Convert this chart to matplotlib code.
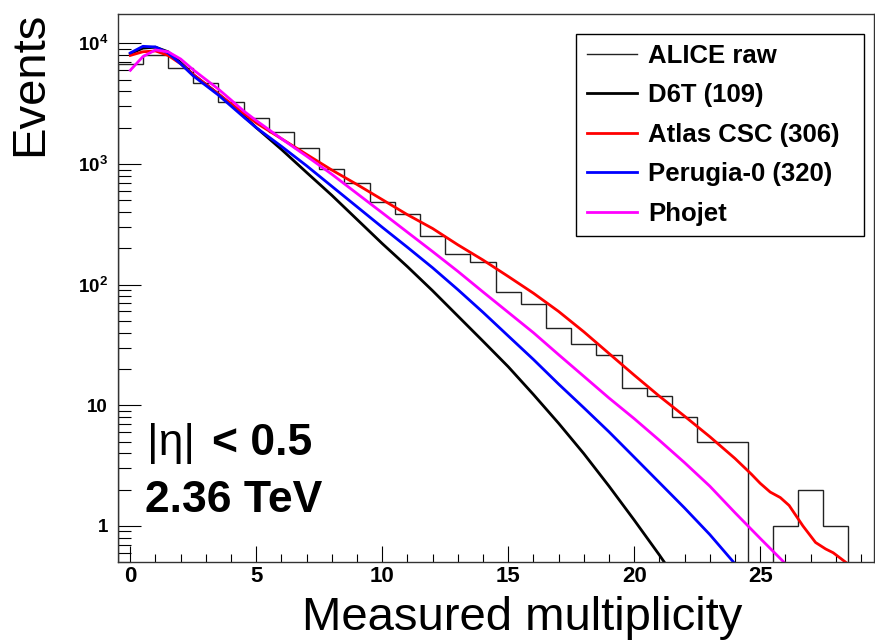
import matplotlib
matplotlib.use("Agg")
import matplotlib.pyplot as plt
import numpy as np

plt.rcParams['font.family'] = ['Liberation Sans', 'DejaVu Sans']
plt.rcParams['mathtext.fontset'] = 'custom'
plt.rcParams['mathtext.rm'] = 'Liberation Sans:bold'
plt.rcParams['mathtext.bf'] = 'Liberation Sans:bold'

# ALICE raw multiplicity histogram (bins centred on integers 0..28)
mult_bins = np.arange(0, 29)
alice_raw = [6800, 8000, 6200, 4650, 3280, 2390, 1850, 1350, 915, 690,
             480, 385, 255, 180, 155, 87, 69, 44, 32, 26,
             14, 12, 8, 5, 5, 0, 1, 2, 1]

# MC generator curves
d6t_x = [0, 0.5, 1, 1.5, 2, 2.5, 3, 3.5, 4, 4.5, 5, 6, 7, 8, 9, 10, 11, 12, 13,
         14, 15, 16, 17, 18, 19, 20, 21, 21.2]
d6t_y = [8200, 9120, 9290, 8510, 6920, 5500, 4570, 3800, 3090, 2510, 2000, 1320,
         850, 550, 347, 219, 141, 89, 55, 34, 20.9, 12.3, 7.1, 3.98, 2.14, 1.12,
         0.575, 0.5]

atlas_x = [0, 0.5, 1, 1.5, 2, 2.5, 3, 3.5, 4, 4.5, 5, 6, 7, 8, 9, 10, 11, 12, 13,
           14, 15, 16, 17, 18, 19, 20, 21, 22, 23, 24, 24.65, 25.0, 25.4, 25.8,
           26.15, 26.7, 27.2, 27.6, 27.9, 28.4]
atlas_y = [7940, 8510, 8650, 7940, 6760, 5500, 4570, 3800, 3160, 2630, 2190, 1620,
           1200, 891, 676, 507, 380, 292, 214, 160, 117, 85, 60, 40.7, 26.9, 17.8,
           11.9, 8.13, 5.5, 3.63, 2.69, 2.26, 1.91, 1.72, 1.48, 1.0, 0.73, 0.645,
           0.60, 0.5]

perugia_x = [0, 0.5, 1, 1.5, 2, 2.5, 3, 3.5, 4, 4.5, 5, 6, 7, 8, 9, 10, 11, 12, 13,
             14, 15, 16, 17, 18, 19, 20, 21, 22, 23, 23.95]
perugia_y = [8320, 9440, 9330, 8320, 6760, 5370, 4470, 3720, 3020, 2450, 2000, 1400,
             966, 653, 442, 299, 204, 138, 91, 59, 37.6, 24, 15, 9.55, 6.03, 3.72,
             2.29, 1.41, 0.85, 0.5]

phojet_x = [0, 0.5, 1, 1.5, 2, 2.5, 3, 3.5, 4, 4.5, 5, 6, 7, 8, 9, 10, 11, 12, 13,
            14, 15, 16, 17, 18, 19, 20, 21, 22, 23, 24, 25, 25.95]
phojet_y = [5980, 7760, 8810, 8510, 7410, 6030, 5010, 4170, 3390, 2750, 2290, 1620,
            1160, 822, 569, 394, 272, 188, 129, 87, 59, 40, 26.3, 17.4, 11.5, 7.76,
            5.13, 3.35, 2.14, 1.29, 0.79, 0.5]

fig = plt.figure(figsize=(8.75, 6.43), dpi=100)
W, H = 875.0, 643.0
ax = fig.add_axes([117.7 / W, 1 - 562.3 / H, (873.5 - 117.7) / W, (562.3 - 14) / H])

edges = np.append(mult_bins - 0.5, mult_bins[-1] + 0.5)
ax.stairs(alice_raw, edges, color='#222222', lw=1.0, baseline=0, label='ALICE raw')
ax.plot(d6t_x, d6t_y, color='black', lw=2.0, label='D6T (109)')
ax.plot(atlas_x, atlas_y, color='#ff0000', lw=2.0, label='Atlas CSC (306)')
ax.plot(perugia_x, perugia_y, color='#0000ff', lw=2.0, label='Perugia-0 (320)')
ax.plot(phojet_x, phojet_y, color='#ff00ff', lw=2.0, label='Phojet')

ax.set_yscale('log')
ax.set_xlim(-0.5, 29.5)
ax.set_ylim(0.5, 1.75e4)

ax.set_xticks([0, 5, 10, 15, 20, 25])
ax.set_xticks(np.arange(0, 30), minor=True)
ax.set_xticklabels(['0', '5', '10', '15', '20', '25'], fontweight='bold', fontsize=16)
ax.set_yticks([1, 10, 100, 1000, 10000])
ax.set_yticklabels(['1', '10', r'$\mathbf{10^{2}}$', r'$\mathbf{10^{3}}$', r'$\mathbf{10^{4}}$'],
                   fontweight='bold', fontsize=13.5)
ax.yaxis.set_minor_locator(matplotlib.ticker.LogLocator(base=10, subs=np.arange(2, 10)))
ax.yaxis.set_minor_formatter(matplotlib.ticker.NullFormatter())

ax.tick_params(axis='both', which='both', direction='in', top=False, right=False,
               width=0.8, color='black')
ax.tick_params(axis='y', which='major', length=16.5, pad=7)
ax.tick_params(axis='y', which='minor', length=9)
ax.tick_params(axis='x', which='major', length=11.5, pad=3)
ax.tick_params(axis='x', which='minor', length=6)
for s in ax.spines.values():
    s.set_linewidth(1.0)
    s.set_color('#333333')

leg = ax.legend(loc='upper left',
                bbox_to_anchor=(576.3 / W, 1 - 232.7 / H, (864 - 576.3) / W, (232.7 - 33.7) / H),
                bbox_transform=fig.transFigure, borderaxespad=0, mode='expand',
                prop={'weight': 'bold', 'size': 18.5}, fancybox=False,
                edgecolor='black', framealpha=1, handlelength=1.95,
                handletextpad=0.45, labelspacing=0.6, borderpad=0.4)
leg.get_frame().set_linewidth(1.0)

fig.text(30 / W, 1 - 12 / H, 'Events', rotation=90, ha='center', va='top', fontsize=34)
fig.text(522 / W, 1 - 630 / H, 'Measured multiplicity', ha='center', va='baseline',
         fontsize=34)

fig.text(146.7 / W, 1 - 455 / H, '|\u03b7|', ha='left', va='baseline', fontsize=32)
fig.text(211.7 / W, 1 - 455 / H, '< 0.5', ha='left', va='baseline', fontsize=32,
         fontweight='bold')
fig.text(145 / W, 1 - 511.7 / H, '2.36 TeV', ha='left', va='baseline', fontsize=32,
         fontweight='bold')

fig.savefig('out.png', dpi=100)
